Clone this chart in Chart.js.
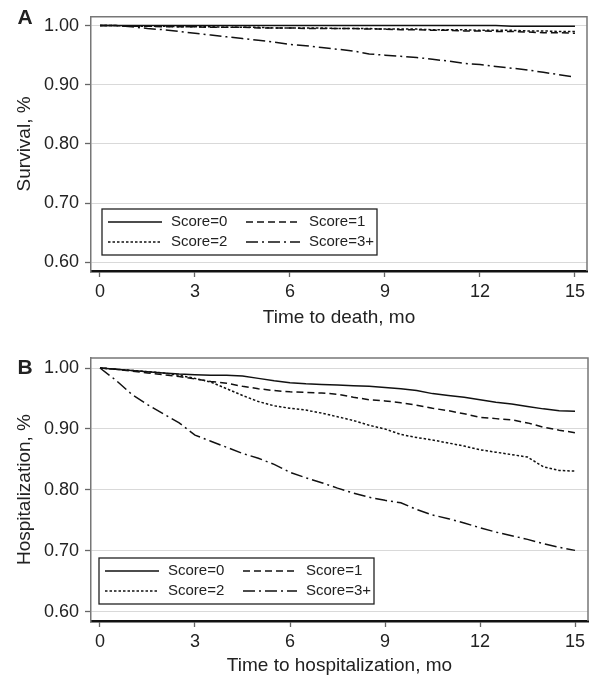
<!DOCTYPE html>
<html>
<head>
<meta charset="utf-8">
<script src="https://cdn.jsdelivr.net/npm/chart.js@4/dist/chart.umd.min.js"></script>
<style>
html, body { margin: 0; padding: 0; background: #fff; overflow: hidden; }
.panel { position: absolute; left: 0; width: 600px; }
#wrapA { top: 0; height: 335px; }
#wrapB { top: 335px; height: 341px; }
</style>
</head>
<body>
<div class="panel" id="wrapA"><canvas id="chartA" width="600" height="335"></canvas></div>
<div class="panel" id="wrapB"><canvas id="chartB" width="600" height="341"></canvas></div>
<script>
// time grid, months
var months = [0, 0.5, 1, 1.5, 2, 2.5, 3, 3.5, 4, 4.5, 5, 5.5, 6, 6.5, 7, 7.5,
  8, 8.5, 9, 9.5, 10, 10.5, 11, 11.5, 12, 12.5, 13, 13.5, 14, 14.5, 15];

var scoreLabels = ['Score=0', 'Score=1', 'Score=2', 'Score=3+'];
var xTicks = [0, 3, 6, 9, 12, 15];
var yTicks = [0.6, 0.7, 0.8, 0.9, 1.0];

// panel A - survival
var deathScore0 = [1, 1, 1, 1, 1, 1, 1, 1, 1, 1, 1, 1, 1, 1, 1, 1,
  1, 1, 1, 1, 1, 1, 1, 1, 1, 1, 0.999, 0.999, 0.999, 0.999, 0.999];
var deathScore1 = [1, 1, 0.999, 0.999, 0.998, 0.998, 0.998, 0.997, 0.997, 0.997, 0.996, 0.996, 0.996, 0.995, 0.995, 0.995,
  0.995, 0.994, 0.994, 0.993, 0.993, 0.992, 0.992, 0.991, 0.991, 0.990, 0.990, 0.989, 0.988, 0.988, 0.987];
var deathScore2 = [1, 1, 0.999, 0.999, 0.999, 0.998, 0.998, 0.998, 0.997, 0.997, 0.997, 0.996, 0.996, 0.996, 0.996, 0.995,
  0.995, 0.995, 0.994, 0.994, 0.994, 0.993, 0.993, 0.993, 0.992, 0.992, 0.992, 0.991, 0.991, 0.990, 0.990];
var deathScore3 = [1, 1, 0.998, 0.995, 0.993, 0.990, 0.987, 0.984, 0.981, 0.978, 0.975, 0.972, 0.968, 0.966, 0.963, 0.960,
  0.957, 0.952, 0.950, 0.948, 0.946, 0.943, 0.940, 0.936, 0.934, 0.931, 0.928, 0.925, 0.921, 0.917, 0.913];

// panel B - hospitalization
var hospScore0 = [1, 0.998, 0.996, 0.994, 0.992, 0.990, 0.989, 0.988, 0.988, 0.987, 0.983, 0.979, 0.976, 0.974, 0.973, 0.972,
  0.971, 0.970, 0.968, 0.966, 0.963, 0.958, 0.955, 0.952, 0.948, 0.944, 0.941, 0.937, 0.933, 0.930, 0.929];
var hospScore1 = [1, 0.998, 0.995, 0.992, 0.989, 0.986, 0.982, 0.978, 0.975, 0.970, 0.966, 0.963, 0.961, 0.960, 0.959, 0.957,
  0.952, 0.948, 0.946, 0.943, 0.939, 0.934, 0.930, 0.925, 0.919, 0.917, 0.915, 0.910, 0.903, 0.898, 0.894];
var hospScore2 = [1, 0.998, 0.996, 0.994, 0.992, 0.988, 0.983, 0.977, 0.966, 0.955, 0.945, 0.938, 0.934, 0.931, 0.926, 0.920,
  0.914, 0.906, 0.900, 0.891, 0.886, 0.882, 0.877, 0.872, 0.866, 0.862, 0.858, 0.854, 0.838, 0.832, 0.831];
var hospScore3 = [1, 0.980, 0.957, 0.940, 0.925, 0.910, 0.890, 0.880, 0.870, 0.860, 0.852, 0.842, 0.829, 0.820, 0.812, 0.803,
  0.795, 0.788, 0.783, 0.779, 0.768, 0.759, 0.753, 0.746, 0.738, 0.731, 0.725, 0.719, 0.712, 0.706, 0.701];

var FONT = '"Liberation Sans", Arial, Helvetica, sans-serif';
var TEXT = '#222';
var dashes = [[], [7, 4], [2.5, 2], [12, 4, 2, 4]];

function toPoints(vals) {
  return vals.map(function (v, i) { return { x: months[i], y: v }; });
}

function makeDatasets(series) {
  return series.map(function (vals, i) {
    return {
      label: scoreLabels[i],
      data: toPoints(vals),
      borderColor: '#111',
      borderWidth: 1.5,
      borderDash: dashes[i],
      pointRadius: 0,
      tension: 0,
      fill: false
    };
  });
}

// top/right frame, legend box and panel letter
const extras = {
  id: 'extras',
  afterDraw(chart, args, o) {
    const ca = chart.chartArea, ctx = chart.ctx;
    ctx.save();
    ctx.strokeStyle = '#777';
    ctx.lineWidth = 1.5;
    ctx.beginPath();
    ctx.moveTo(ca.left, ca.top);
    ctx.lineTo(ca.right, ca.top);
    ctx.lineTo(ca.right, ca.bottom);
    ctx.stroke();

    // legend
    const w = 275, h = 46;
    const x0 = ca.left + o.dx, y0 = ca.bottom - o.dy - h;
    ctx.fillStyle = '#fff';
    ctx.fillRect(x0, y0, w, h);
    ctx.strokeStyle = '#222';
    ctx.lineWidth = 1.3;
    ctx.strokeRect(x0, y0, w, h);
    chart.data.datasets.forEach(function (ds, i) {
      const col = i % 2, row = Math.floor(i / 2);
      const lx = x0 + 6 + col * 138, ly = y0 + 13 + row * 20;
      ctx.setLineDash(ds.borderDash);
      ctx.lineWidth = ds.borderWidth;
      ctx.strokeStyle = ds.borderColor;
      ctx.beginPath();
      ctx.moveTo(lx, ly);
      ctx.lineTo(lx + 54, ly);
      ctx.stroke();
      ctx.setLineDash([]);
      ctx.fillStyle = TEXT;
      ctx.font = '15px ' + FONT;
      ctx.textBaseline = 'middle';
      ctx.textAlign = 'left';
      ctx.fillText(ds.label, lx + 63, ly);
    });

    // panel letter
    ctx.fillStyle = TEXT;
    ctx.font = 'bold 21px ' + FONT;
    ctx.textAlign = 'center';
    ctx.textBaseline = 'middle';
    ctx.fillText(o.letter, 25, o.letterY);
    ctx.restore();
  }
};

function makePanel(id, cfg) {
  const canvas = document.getElementById(id);
  return new Chart(canvas, {
    type: 'line',
    data: { datasets: makeDatasets(cfg.series) },
    plugins: [extras],
    options: {
      responsive: false,
      animation: false,
      layout: { padding: { top: cfg.top, right: cfg.right, left: 0, bottom: 0 } },
      plugins: {
        legend: { display: false },
        tooltip: { enabled: false },
        extras: { dx: cfg.legDx, dy: cfg.legDy, letter: cfg.letter, letterY: cfg.letterY }
      },
      scales: {
        x: {
          type: 'linear',
          min: cfg.xMin,
          max: cfg.xMax,
          afterBuildTicks: function (s) { s.ticks = xTicks.map(function (v) { return { value: v }; }); },
          afterFit: function (s) { s.height = cfg.height - cfg.bottom; },
          grid: { drawOnChartArea: false, tickLength: 6, tickColor: '#666', tickWidth: 1.3 },
          border: { color: '#111', width: 2.5 },
          ticks: { color: TEXT, font: { family: FONT, size: 18 }, padding: 4, maxRotation: 0 },
          title: {
            display: true, text: cfg.xTitle, color: TEXT,
            font: { family: FONT, size: 19, lineHeight: 1 },
            padding: { top: 0, bottom: cfg.xTitlePad }
          }
        },
        y: {
          min: cfg.yMin,
          max: cfg.yMax,
          afterBuildTicks: function (s) { s.ticks = yTicks.map(function (v) { return { value: v }; }); },
          afterFit: function (s) { s.width = 91; },
          grid: { color: '#d9d9d9', lineWidth: 1, tickLength: 6, tickColor: '#666', tickWidth: 1.3 },
          border: { color: '#777', width: 1.5 },
          ticks: {
            color: TEXT, font: { family: FONT, size: 18 }, padding: 6,
            callback: function (v) { return Number(v).toFixed(2); }
          },
          title: {
            display: true, text: cfg.yTitle, color: TEXT,
            font: { family: FONT, size: 19, lineHeight: 1 },
            padding: { top: 15, bottom: 0 }
          }
        }
      }
    }
  });
}

makePanel('chartA', {
  series: [deathScore0, deathScore1, deathScore2, deathScore3],
  height: 335, top: 9, right: 13, bottom: 271,
  xMin: -0.284, xMax: 15.38, yMin: 0.5852, yMax: 1.0148,
  xTitle: 'Time to death, mo', yTitle: 'Survival, %', xTitlePad: 8,
  legDx: 11, legDy: 16, letter: 'A', letterY: 18
});

makePanel('chartB', {
  series: [hospScore0, hospScore1, hospScore2, hospScore3],
  height: 341, top: 23, right: 12, bottom: 286,
  xMin: -0.284, xMax: 15.41, yMin: 0.5852, yMax: 1.0164,
  xTitle: 'Time to hospitalization, mo', yTitle: 'Hospitalization, %', xTitlePad: 1,
  legDx: 8, legDy: 17, letter: 'B', letterY: 33
});
</script>
</body>
</html>
